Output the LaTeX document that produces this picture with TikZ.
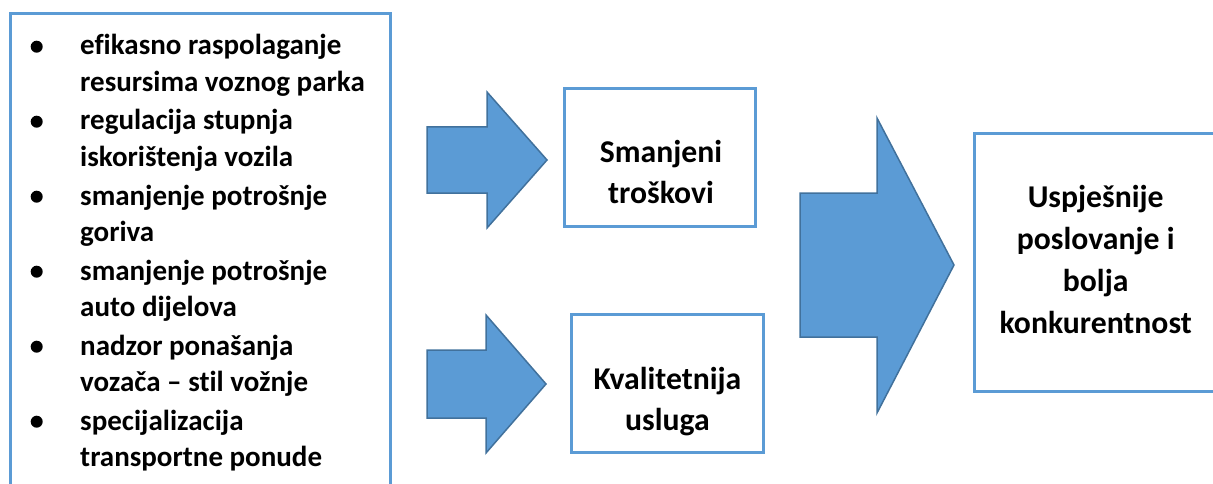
\documentclass[tikz,border=0pt]{standalone}
\usepackage{fontspec}
\setmainfont{Carlito}[Ligatures={NoCommon,NoRare,NoContextual}]
\definecolor{boxblue}{HTML}{5B9BD5}
\definecolor{arrowedge}{HTML}{41719C}
\begin{document}
\begin{tikzpicture}[x=1pt,y=-1pt,
  frame/.style={draw=boxblue, line width=3pt, inner sep=0pt, fill=none},
  itemtext/.style={anchor=base west, inner sep=0pt, font=\fontsize{29}{35}\selectfont\bfseries},
  boxtext/.style={anchor=base, inner sep=0pt, font=\fontsize{31.7}{40}\selectfont\bfseries},
  dot/.style={circle, fill=black, inner sep=0pt, minimum size=12pt},
  blockarrow/.style={fill=boxblue, draw=arrowedge, line width=1.5pt, line join=miter}]
\useasboundingbox (0,0) rectangle (1213,484);
\clip (0,0) rectangle (1213,484);

% left list box
\node[frame, minimum width=380, minimum height=506] (list) at (200.5,266.5) {};
\node[dot] (b1) at (36.7,46.7) {};
\node[itemtext] (t1a) at (80,55) {efikasno raspolaganje};
\node[itemtext] (t1b) at (80,91.5) {resursima voznog parka};
\node[dot] (b2) at (36.7,121.7) {};
\node[itemtext] (t2a) at (80,130) {regulacija stupnja};
\node[itemtext] (t2b) at (80,166.5) {iskorištenja vozila};
\node[dot] (b3) at (36.7,196.7) {};
\node[itemtext] (t3a) at (80,205) {smanjenje potrošnje};
\node[itemtext] (t3b) at (80,241.5) {goriva};
\node[dot] (b4) at (36.7,271.7) {};
\node[itemtext] (t4a) at (80,280) {smanjenje potrošnje};
\node[itemtext] (t4b) at (80,316.5) {auto dijelova};
\node[dot] (b5) at (36.7,346.7) {};
\node[itemtext] (t5a) at (80,355) {nadzor ponašanja};
\node[itemtext] (t5b) at (80,391.5) {vozača – stil vožnje};
\node[dot] (b6) at (36.7,421.7) {};
\node[itemtext] (t6a) at (80,430) {specijalizacija};
\node[itemtext] (t6b) at (80,466.5) {transportne ponude};

% block arrows
\draw[blockarrow] (427,127) -- (487,127) -- (487,92) -- (547,160) -- (487,228) -- (487,193) -- (427,193) -- cycle;
\draw[blockarrow] (427,350) -- (486,350) -- (486,315) -- (546,384) -- (486,453) -- (486,418) -- (427,418) -- cycle;
\draw[blockarrow] (800,193) -- (877,193) -- (877,118) -- (954,265) -- (877,413) -- (877,337) -- (800,337) -- cycle;

% middle boxes
\node[frame, minimum width=191, minimum height=138] (cost) at (660,157.5) {};
\node[boxtext] (c1) at (661,163) {Smanjeni};
\node[boxtext] (c2) at (661,204) {troškovi};

\node[frame, minimum width=192, minimum height=138] (qual) at (667.5,383.5) {};
\node[boxtext] (q1) at (667.5,389) {Kvalitetnija};
\node[boxtext] (q2) at (667.5,430) {usluga};

% right box
\node[frame, minimum width=275.5, minimum height=258] (result) at (1112.25,262.5) {};
\node[boxtext] (r1) at (1095.7,207) {Uspješnije};
\node[boxtext] (r2) at (1095.7,249) {poslovanje i};
\node[boxtext] (r3) at (1095.7,291) {bolja};
\node[boxtext] (r4) at (1095.7,333) {konkurentnost};
\end{tikzpicture}
\end{document}
